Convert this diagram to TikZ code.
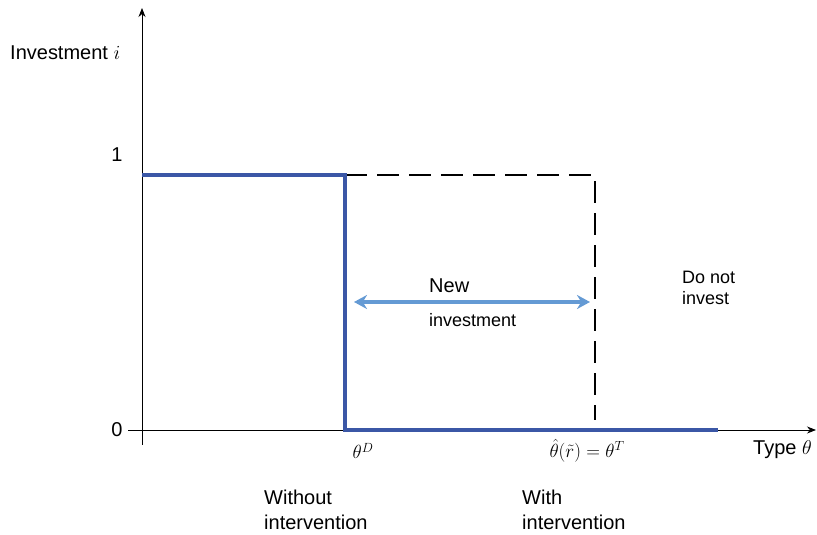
\documentclass[tikz,border=0pt]{standalone}
\usepackage{fix-cm}
\usepackage{fontspec}
\setmainfont{Liberation Sans}
\usetikzlibrary{arrows.meta}
\usetikzlibrary{positioning}
\definecolor{stepblue}{RGB}{59,87,166}
\definecolor{arrowblue}{RGB}{100,154,212}
\tikzset{axis line/.style={line width=0.8pt, -{Stealth[length=9pt,width=7pt]}}}
\tikzset{step line/.style={stepblue, line width=4.5pt, line join=miter}}
\tikzset{cut line/.style={line width=2.2pt, dash pattern=on 22pt off 10pt}}
\tikzset{big text/.style={font=\fontsize{20}{25}\selectfont, inner sep=0pt, align=left}}
\tikzset{small text/.style={font=\fontsize{18}{21}\selectfont, inner sep=0pt, align=left}}
\tikzset{math text/.style={font=\fontsize{19}{23}\selectfont, inner sep=0pt}}

\begin{document}
\begin{tikzpicture}[x=1pt, y=-1pt]
            \useasboundingbox (0,0) rectangle (817,535);
            % axes
            \coordinate (o) at (142,430);
            \coordinate (ytop) at (142,8);
            \coordinate (ybot) at (142,445);
            \coordinate (xleft) at (128,430);
            \coordinate (xright) at (816,430);
            \draw[line width=0.8pt] (o) -- (ybot);
            \draw[axis line] (o) -- (ytop);
            \draw[axis line] (xleft) -- (xright);
            % investment schedule
            \coordinate (a) at (142,175);
            \coordinate (d1) at (345,175);
            \coordinate (d0) at (345,430);
            \coordinate (e) at (718,430);
            \coordinate (t1) at (595,175);
            \coordinate (t0) at (595,420);
            \draw[cut line] (d1) -- (t1) -- (t0);
            \draw[step line] (a) -- (d1) -- (d0) -- (e);
            \coordinate (nl) at (354,302);
            \coordinate (nr) at (590,302);
            \draw[arrowblue, line width=4pt, {Stealth[length=13pt,width=14pt]}-{Stealth[length=13pt,width=14pt]}] (nl) -- (nr);
            % labels
            \node[big text, anchor=west] (ylab) at (10,53) {Investment $i$};
            \node[big text] (one) at (117,155) {1};
            \node[big text] (zero) at (117,430) {0};
            \node[math text] (thD) at (363,451) {$\theta^D$};
            \node[math text] (thT) at (587,451) {$\hat\theta(\tilde r)=\theta^T$};
            \node[big text, anchor=west] (xlab) at (753,450) {Type $\theta$};
            \node[big text, anchor=west] (new) at (429,286) {New};
            \node[small text, anchor=west] (newi) at (429,320) {investment};
            \node[small text, anchor=west] (dont) at (682,288) {Do not\\invest};
            \node[big text, anchor=west] (without) at (264,510) {Without\\intervention};
            \node[big text, anchor=west] (with) at (522,510) {With\\intervention};
        \end{tikzpicture}
\end{document}
